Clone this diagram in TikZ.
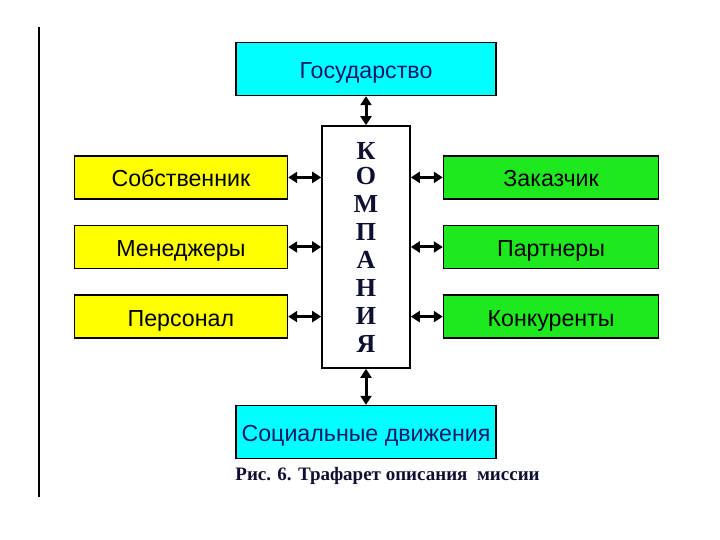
\documentclass[tikz,border=0pt]{standalone}
\usepackage{fontspec}
\setmainfont{Liberation Sans}
\newfontfamily\letterfont{Liberation Serif}
\usepackage{xcolor}
\usepackage{tikz}
\usetikzlibrary{arrows.meta,positioning}
\definecolor{cyanbox}{RGB}{0,255,255}
\definecolor{yellowbox}{RGB}{255,255,0}
\definecolor{greenbox}{RGB}{30,232,30}
\definecolor{navytext}{RGB}{10,25,110}
\definecolor{darkletter}{RGB}{15,15,50}
\tikzset{
  box/.style={draw, line width=1.6pt, inner sep=0pt, minimum height=43pt, text height=19pt, text depth=0pt,
    font=\fontsize{23.2}{25}\selectfont},
  outer/.style={box, fill=cyanbox, text=navytext, minimum width=260pt, minimum height=53pt},
  inner/.style={box, fill=yellowbox, minimum width=213pt},
  market/.style={box, fill=greenbox, minimum width=215pt},
  firm/.style={draw, fill=white, line width=1.6pt, minimum width=88pt, minimum height=242pt,
    align=center, text=darkletter, font=\letterfont\bfseries\fontsize{26}{28}\selectfont},
  caption/.style={inner sep=0pt, text=darkletter, font=\letterfont\bfseries\fontsize{19}{21}\selectfont},
  arrow/.style={{Triangle[length=9pt,width=11pt]}-{Triangle[length=9pt,width=11pt]}, line width=3pt}
}
\begin{document}
\begin{tikzpicture}[node distance=25pt and 33pt]
    \useasboundingbox (0,0) rectangle (720pt,540pt);
    \coordinate (margintop) at (39pt,513pt);
    \coordinate (marginbot) at (39pt,43pt);
    \draw[line width=1.5pt] (margintop) -- (marginbot);

    \node[firm] (komp) at (366pt,293pt) {\raisebox{-3pt}{К}\\О\\М\\П\\А\\Н\\И\\Я};
    \node[outer, above=29pt of komp] (gos) {Государство};
    \node[outer, below=36pt of komp] (soc) {Социальные движения};

    % inner environment
    \node[inner, left=of komp] (men) {Менеджеры};
    \node[inner, above=of men] (own) {Собственник};
    \node[inner, below=of men] (pers) {Персонал};

    % outer environment
    \node[market, right=32pt of komp] (part) {Партнеры};
    \node[market, above=of part] (cust) {Заказчик};
    \node[market, below=of part] (comp) {Конкуренты};

    \draw[arrow] (gos.south -| komp.north) -- (komp.north);
    \draw[arrow] (komp.south) -- (soc.north -| komp.south);
    \draw[arrow] (own.east) -- (own.east -| komp.west);
    \draw[arrow] (men.east) -- (men.east -| komp.west);
    \draw[arrow] (pers.east) -- (pers.east -| komp.west);
    \draw[arrow] (cust.west -| komp.east) -- (cust.west);
    \draw[arrow] (part.west -| komp.east) -- (part.west);
    \draw[arrow] (comp.west -| komp.east) -- (comp.west);

    \node[caption, below right=8pt and 0pt of soc.south west] (cap) {Рис. 6. Трафарет описания\ \ миссии};
\end{tikzpicture}
\end{document}
